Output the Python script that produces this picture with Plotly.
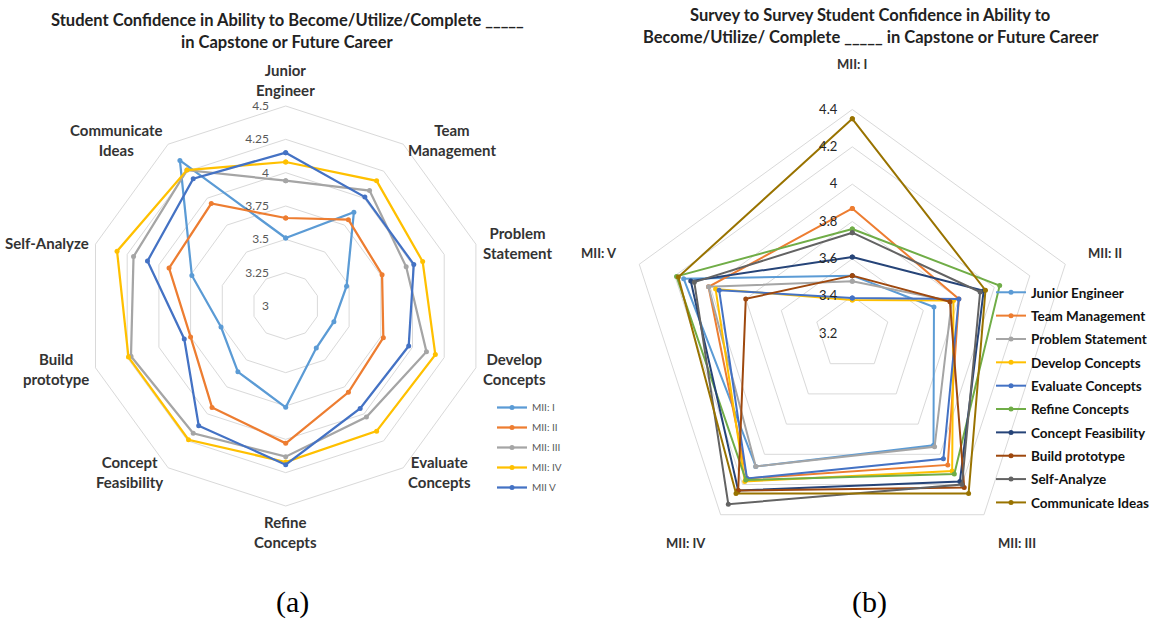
import math
import plotly.graph_objects as go

# ---- data -------------------------------------------------------------
surveys = ["MII: I", "MII: II", "MII: III", "MII: IV", "MII: V"]
survey_legend = ["MII: I", "MII: II", "MII: III", "MII: IV", "MII V"]

skills = ["Junior Engineer", "Team Management", "Problem Statement",
          "Develop Concepts", "Evaluate Concepts", "Refine Concepts",
          "Concept Feasibility", "Build prototype", "Self-Analyze",
          "Communicate Ideas"]
skill_ticks = ["Junior<br>Engineer", "Team<br>Management", "Problem<br>Statement",
               "Develop<br>Concepts", "Evaluate<br>Concepts", "Refine<br>Concepts",
               "Concept<br>Feasibility", "Build<br>prototype", "Self-Analyze",
               "Communicate<br>Ideas"]

# mean confidence per skill, one list per survey
mii_1 = [3.51, 3.87, 3.48, 3.38, 3.39, 3.76, 3.61, 3.51, 3.74, 4.35]
mii_2 = [3.66, 3.80, 3.76, 3.77, 3.80, 4.03, 3.94, 3.75, 3.92, 3.95]
mii_3 = [3.94, 4.07, 3.95, 4.11, 4.03, 4.13, 4.18, 4.22, 4.20, 4.26]
mii_4 = [4.08, 4.16, 4.08, 4.18, 4.16, 4.17, 4.24, 4.24, 4.33, 4.26]
mii_5 = [4.15, 4.01, 4.01, 3.97, 3.95, 4.19, 4.11, 3.80, 4.09, 4.18]
survey_values = [mii_1, mii_2, mii_3, mii_4, mii_5]

survey_colors = ["#5B9BD5", "#ED7D31", "#A5A5A5", "#FFC000", "#4472C4"]
skill_colors = ["#5B9BD5", "#ED7D31", "#A5A5A5", "#FFC000", "#4472C4",
                "#70AD47", "#264478", "#9E480E", "#636363", "#997300"]

W, H = 1158, 620
FONT = "Lato"
GRID = "#D9D9D9"

# web placement (pixels): centre and outer radius of each chart
A_CX, A_CY, A_R = 285.7, 306, 200
B_CX, B_CY, B_R = 852.3, 333.5, 224


def closed(seq):
    return list(seq) + [seq[0]]


fig = go.Figure()

# ---- (a) skills around the web, one trace per survey -------------------
for name, vals, col in zip(survey_legend, survey_values, survey_colors):
    fig.add_trace(go.Scatterpolar(
        r=closed(vals), theta=closed(skills), mode="lines+markers",
        name=name, subplot="polar", legend="legend",
        legendgroup="a_" + name,
        line=dict(color=col, width=2.25),
        marker=dict(size=5, color=col),
    ))

# ---- (b) surveys around the web, one trace per skill -------------------
for i, (skill, col) in enumerate(zip(skills, skill_colors)):
    vals = [s[i] for s in survey_values]
    fig.add_trace(go.Scatterpolar(
        r=closed(vals), theta=closed(surveys), mode="lines+markers",
        name=skill, subplot="polar2", legend="legend2",
        legendgroup="b_" + skill,
        line=dict(color=col, width=2),
        marker=dict(size=5, color=col),
    ))


def dom(cx, cy, rad):
    return dict(x=[(cx - rad) / W, (cx + rad) / W],
                y=[(H - cy - rad) / H, (H - cy + rad) / H])


def radial(rng, step, size, color, standoff):
    return dict(range=rng, tick0=rng[0], dtick=step, angle=90,
                tickangle=90, side="counterclockwise",
                showline=False, ticks="outside", ticklen=standoff,
                tickcolor="rgba(0,0,0,0)", gridcolor=GRID, gridwidth=1,
                tickfont=dict(family=FONT, size=size, color=color))


def angular():
    return dict(direction="clockwise", rotation=90, showticklabels=False,
                showgrid=False, showline=True, linecolor=GRID, linewidth=1,
                ticks="")


fig.update_layout(
    width=W, height=H,
    margin=dict(l=0, r=0, t=0, b=0),
    paper_bgcolor="white",
    showlegend=True,
    polar=dict(domain=dom(A_CX, A_CY, A_R), bgcolor="white", gridshape="linear",
               radialaxis=radial([3, 4.5], 0.25, 12, "#595959", 12),
               angularaxis=angular()),
    polar2=dict(domain=dom(B_CX, B_CY, B_R), bgcolor="white", gridshape="linear",
                radialaxis=radial([3.2, 4.4], 0.2, 13, "#262626", 10),
                angularaxis=angular()),
    legend=dict(x=492 / W, y=1 - 393 / H, xanchor="left", yanchor="top",
                bgcolor="rgba(0,0,0,0)", traceorder="grouped", tracegroupgap=1,
                font=dict(family=FONT, size=10, color="#595959")),
    legend2=dict(x=991 / W, y=1 - 277 / H, xanchor="left", yanchor="top",
                 bgcolor="rgba(0,0,0,0)", traceorder="grouped", tracegroupgap=2.8,
                 font=dict(family=FONT, size=13.5, color="#111111", weight="bold")),
)


def category_labels(labels, cx, cy, rad, gap, size, xscale=1.0):
    """Place category names just outside each spoke of a web chart."""
    n = len(labels)
    for k, text in enumerate(labels):
        ang = 2 * math.pi * k / n
        s, c = math.sin(ang), math.cos(ang)
        px = cx + (rad + gap) * s * xscale
        py = cy - (rad + gap) * c
        xa = "left" if s > 0.1 else ("right" if s < -0.1 else "center")
        ya = "bottom" if c > 0.9 else ("top" if c < -0.9 else "middle")
        fig.add_annotation(text=text, x=px / W, y=1 - py / H,
                           xref="paper", yref="paper", xanchor=xa, yanchor=ya,
                           align="center", showarrow=False,
                           font=dict(family=FONT, size=size, color="#333333",
                                     weight="bold"))


category_labels(skill_ticks, A_CX, A_CY, A_R, 5, 15)
category_labels(surveys, B_CX, B_CY, B_R, 35, 13, xscale=0.947)

titles = [
    ("Student Confidence in Ability to Become/Utilize/Complete _____", 287, 20),
    ("in Capstone or Future Career", 287, 42),
    ("Survey to Survey Student Confidence in Ability to", 870, 15),
    ("Become/Utilize/ Complete _____ in Capstone or Future Career", 871, 37),
]
for text, x, y in titles:
    fig.add_annotation(text=text, x=x / W, y=1 - y / H, xref="paper", yref="paper",
                       xanchor="center", yanchor="middle", showarrow=False,
                       font=dict(family=FONT, size=16.5, color="#222222", weight="bold"))

for text, x in [("(a)", 292), ("(b)", 869)]:
    fig.add_annotation(text=text, x=x / W, y=1 - 602 / H, xref="paper", yref="paper",
                       xanchor="center", yanchor="middle", showarrow=False,
                       font=dict(family="Liberation Serif", size=30, color="#000000"))

fig.write_html("out.html")
